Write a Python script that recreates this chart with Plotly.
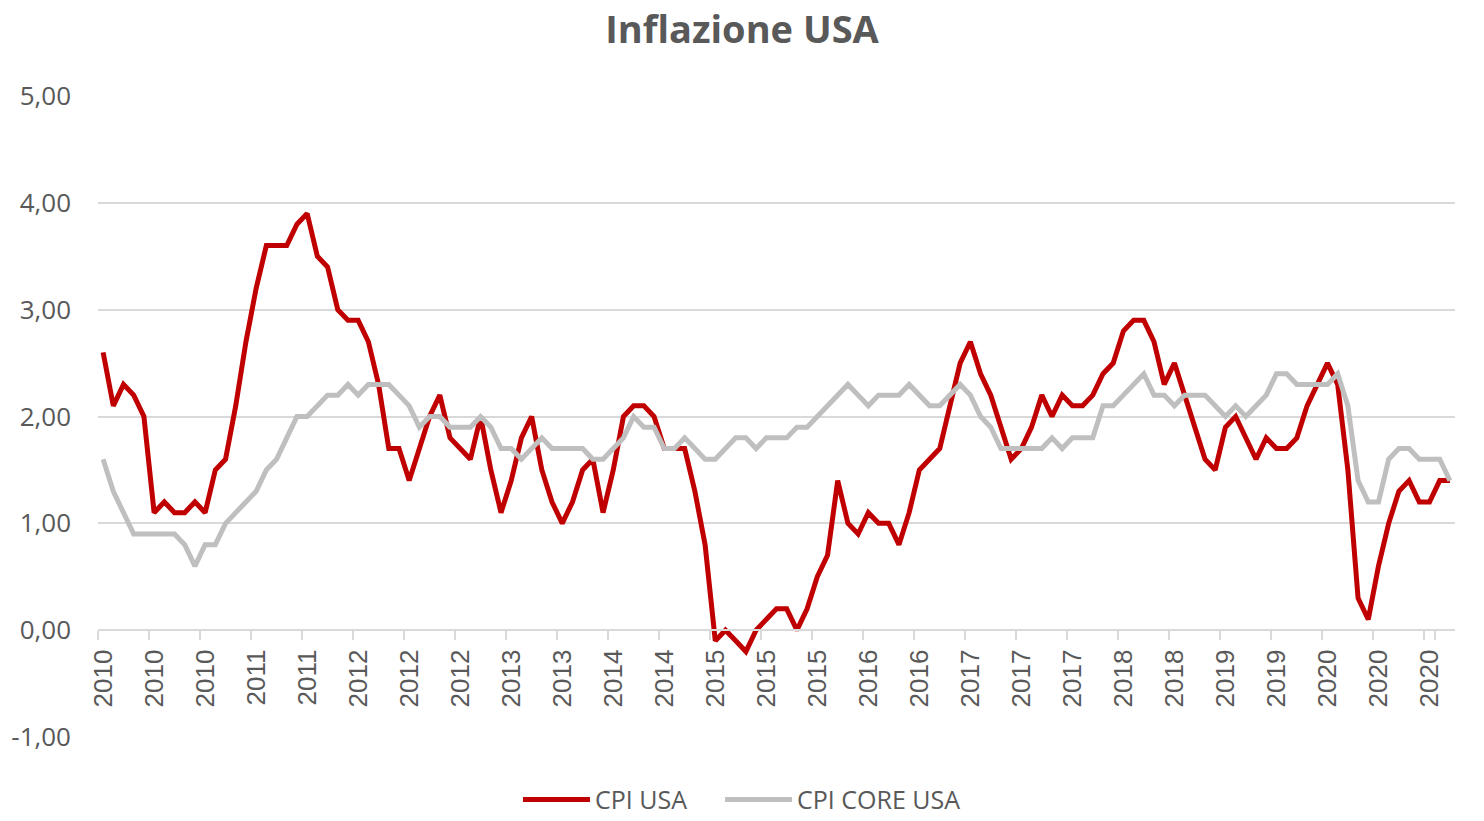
import plotly.graph_objects as go

# Monthly inflation, Jan 2010 - Jan 2021 (% yoy)
months = [f"{y}-{m:02d}" for y in range(2010, 2021) for m in range(1, 13)] + ["2021-01"]

cpi_usa = [
    2.6, 2.1, 2.3, 2.2, 2.0, 1.1, 1.2, 1.1, 1.1, 1.2, 1.1, 1.5,
    1.6, 2.1, 2.7, 3.2, 3.6, 3.6, 3.6, 3.8, 3.9, 3.5, 3.4, 3.0,
    2.9, 2.9, 2.7, 2.3, 1.7, 1.7, 1.4, 1.7, 2.0, 2.2, 1.8, 1.7,
    1.6, 2.0, 1.5, 1.1, 1.4, 1.8, 2.0, 1.5, 1.2, 1.0, 1.2, 1.5,
    1.6, 1.1, 1.5, 2.0, 2.1, 2.1, 2.0, 1.7, 1.7, 1.7, 1.3, 0.8,
    -0.1, 0.0, -0.1, -0.2, 0.0, 0.1, 0.2, 0.2, 0.0, 0.2, 0.5, 0.7,
    1.4, 1.0, 0.9, 1.1, 1.0, 1.0, 0.8, 1.1, 1.5, 1.6, 1.7, 2.1,
    2.5, 2.7, 2.4, 2.2, 1.9, 1.6, 1.7, 1.9, 2.2, 2.0, 2.2, 2.1,
    2.1, 2.2, 2.4, 2.5, 2.8, 2.9, 2.9, 2.7, 2.3, 2.5, 2.2, 1.9,
    1.6, 1.5, 1.9, 2.0, 1.8, 1.6, 1.8, 1.7, 1.7, 1.8, 2.1, 2.3,
    2.5, 2.3, 1.5, 0.3, 0.1, 0.6, 1.0, 1.3, 1.4, 1.2, 1.2, 1.4,
    1.4,
]

cpi_core_usa = [
    1.6, 1.3, 1.1, 0.9, 0.9, 0.9, 0.9, 0.9, 0.8, 0.6, 0.8, 0.8,
    1.0, 1.1, 1.2, 1.3, 1.5, 1.6, 1.8, 2.0, 2.0, 2.1, 2.2, 2.2,
    2.3, 2.2, 2.3, 2.3, 2.3, 2.2, 2.1, 1.9, 2.0, 2.0, 1.9, 1.9,
    1.9, 2.0, 1.9, 1.7, 1.7, 1.6, 1.7, 1.8, 1.7, 1.7, 1.7, 1.7,
    1.6, 1.6, 1.7, 1.8, 2.0, 1.9, 1.9, 1.7, 1.7, 1.8, 1.7, 1.6,
    1.6, 1.7, 1.8, 1.8, 1.7, 1.8, 1.8, 1.8, 1.9, 1.9, 2.0, 2.1,
    2.2, 2.3, 2.2, 2.1, 2.2, 2.2, 2.2, 2.3, 2.2, 2.1, 2.1, 2.2,
    2.3, 2.2, 2.0, 1.9, 1.7, 1.7, 1.7, 1.7, 1.7, 1.8, 1.7, 1.8,
    1.8, 1.8, 2.1, 2.1, 2.2, 2.3, 2.4, 2.2, 2.2, 2.1, 2.2, 2.2,
    2.2, 2.1, 2.0, 2.1, 2.0, 2.1, 2.2, 2.4, 2.4, 2.3, 2.3, 2.3,
    2.3, 2.4, 2.1, 1.4, 1.2, 1.2, 1.6, 1.7, 1.7, 1.6, 1.6, 1.6,
    1.4,
]

# year label every 5 months
tick_vals = months[::5]
tick_text = [m[:4] for m in tick_vals]

y_vals = [-1, 0, 1, 2, 3, 4, 5]
y_text = ["-1,00", "0,00", "1,00", "2,00", "3,00", "4,00", "5,00"]

grey_txt = "#595959"

fig = go.Figure()
fig.add_trace(go.Scatter(x=months, y=cpi_usa, name="CPI USA", mode="lines",
                         line=dict(color="#C00000", width=5), legend="legend"))
fig.add_trace(go.Scatter(x=months, y=cpi_core_usa, name="CPI CORE USA", mode="lines",
                         line=dict(color="#BFBFBF", width=5), legend="legend2"))

# one legend box per series so the gap between the two entries can be set
leg = dict(orientation="h", xanchor="left", y=-0.098, yanchor="middle",
           font=dict(size=25, color=grey_txt), itemwidth=67, bgcolor="rgba(0,0,0,0)")

# page body has an 8px margin, so the figure is kept 16px smaller than the window
fig.update_layout(
    width=1468, height=805,
    paper_bgcolor="white", plot_bgcolor="white",
    font=dict(family="'Open Sans', sans-serif", color=grey_txt),
    title=dict(text="<b>Inflazione USA</b>", x=0.5, xanchor="center", y=0.973, yanchor="middle",
               font=dict(size=38, color=grey_txt)),
    margin=dict(l=90, r=21, t=88, b=76, autoexpand=False),
    showlegend=True,
    legend=dict(leg, x=0.3095),
    legend2=dict(leg, x=0.4584),
)

fig.update_xaxes(
    type="category", categoryorder="array", categoryarray=months,
    tickmode="array", tickvals=tick_vals, ticktext=tick_text,
    tickson="boundaries", tickangle=-90,
    anchor="free", position=1 / 6, automargin=False,
    showgrid=False, showline=True, linecolor="#D9D9D9", linewidth=2,
    ticks="outside", ticklen=9, tickwidth=2, tickcolor="#D9D9D9",
    tickfont=dict(family="'Liberation Sans', Arial, sans-serif", size=26, color=grey_txt),
    ticklabelstandoff=8,
    range=[-0.5, len(months) - 0.5],
)
fig.update_yaxes(
    range=[-1, 5], tickmode="array", tickvals=y_vals, ticktext=y_text,
    showgrid=True, gridcolor="#D9D9D9", gridwidth=1.5, automargin=False,
    zeroline=False, showline=False, ticks="",
    tickfont=dict(size=26, color=grey_txt), ticklabelstandoff=26,
)

fig.write_html("out.html")
